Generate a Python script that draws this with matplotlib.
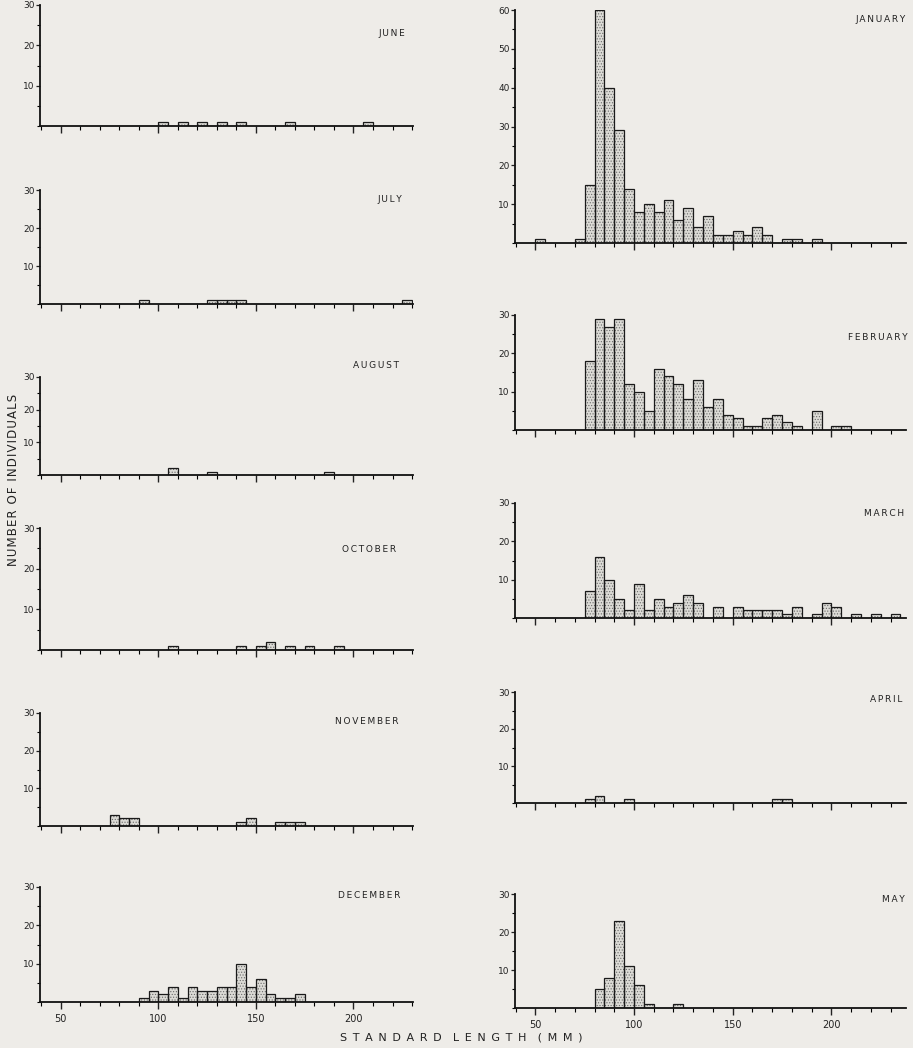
import matplotlib
matplotlib.use("Agg")
import matplotlib.pyplot as plt
from matplotlib.ticker import MultipleLocator

# bin start (mm, 5 mm bins) and number of individuals
jun_bins = [100, 110, 120, 130, 140, 165, 205]
jun_counts = [1, 1, 1, 1, 1, 1, 1]
jul_bins = [90, 125, 130, 135, 140, 225]
jul_counts = [1, 1, 1, 1, 1, 1]
aug_bins = [105, 125, 185]
aug_counts = [2, 1, 1]
oct_bins = [105, 140, 150, 155, 165, 175, 190]
oct_counts = [1, 1, 1, 2, 1, 1, 1]
nov_bins = [75, 80, 85, 140, 145, 160, 165, 170]
nov_counts = [3, 2, 2, 1, 2, 1, 1, 1]
dec_bins = [90, 95, 100, 105, 110, 115, 120, 125, 130, 135, 140, 145, 150, 155, 160, 165, 170]
dec_counts = [1, 3, 2, 4, 1, 4, 3, 3, 4, 4, 10, 4, 6, 2, 1, 1, 2]

jan_bins = [50, 70, 75, 80, 85, 90, 95, 100, 105, 110, 115, 120, 125, 130, 135,
            140, 145, 150, 155, 160, 165, 175, 180, 190]
jan_counts = [1, 1, 15, 60, 40, 29, 14, 8, 10, 8, 11, 6, 9, 4, 7,
              2, 2, 3, 2, 4, 2, 1, 1, 1]
feb_bins = [75, 80, 85, 90, 95, 100, 105, 110, 115, 120, 125, 130, 135, 140,
            145, 150, 155, 160, 165, 170, 175, 180, 190, 200, 205]
feb_counts = [18, 29, 27, 29, 12, 10, 5, 16, 14, 12, 8, 13, 6, 8,
              4, 3, 1, 1, 3, 4, 2, 1, 5, 1, 1]
mar_bins = [75, 80, 85, 90, 95, 100, 105, 110, 115, 120, 125, 130, 140, 150,
            155, 160, 165, 170, 175, 180, 190, 195, 200, 210, 220, 230]
mar_counts = [7, 16, 10, 5, 2, 9, 2, 5, 3, 4, 6, 4, 3, 3,
              2, 2, 2, 2, 1, 3, 1, 4, 3, 1, 1, 1]
apr_bins = [75, 80, 95, 170, 175]
apr_counts = [1, 2, 1, 1, 1]
may_bins = [80, 85, 90, 95, 100, 105, 120]
may_counts = [5, 8, 23, 11, 6, 1, 1]

W, H = 913, 1048
BG = "#eeece8"

plt.rcParams["hatch.linewidth"] = 0.5
fig = plt.figure(figsize=(W / 100, H / 100), dpi=100, facecolor=BG)


def spaced(s, sep="\u2009"):
    return sep.join(s)


def panel(x0, x1, top, bottom, bins, counts, name, tx, ty, xlim, ymax=30, labels=False):
    ax = fig.add_axes([x0 / W, 1 - bottom / H, (x1 - x0) / W, (bottom - top) / H])
    ax.set_facecolor("none")
    ax.bar(bins, counts, width=5, align="edge", color="#dcdbd6",
           edgecolor="#6a6a6a", hatch="......", linewidth=0)
    ax.bar(bins, counts, width=5, align="edge", fill=False,
           edgecolor="#1a1a1a", linewidth=0.9)
    ax.set_xlim(*xlim)
    ax.set_ylim(0, ymax)
    for s in ["top", "right"]:
        ax.spines[s].set_visible(False)
    for s in ["left", "bottom"]:
        ax.spines[s].set_linewidth(1.3)
        ax.spines[s].set_color("#111111")
    ax.xaxis.set_major_locator(MultipleLocator(50))
    ax.xaxis.set_minor_locator(MultipleLocator(10))
    ax.yaxis.set_major_locator(MultipleLocator(10))
    ax.yaxis.set_minor_locator(MultipleLocator(5))
    ax.tick_params(axis="x", which="major", direction="out", length=5, width=1, labelsize=7,
                   labelbottom=labels, colors="#222222")
    ax.tick_params(axis="x", which="minor", direction="out", length=3, width=0.8)
    ax.tick_params(axis="y", which="major", direction="out", length=3, width=0.9, labelsize=6.5,
                   pad=1, colors="#222222")
    ax.tick_params(axis="y", which="minor", direction="out", length=2.5, width=0.8)
    ax.set_yticks([t for t in range(10, ymax + 1, 10)])
    fig.text(tx / W, 1 - ty / H, spaced(name), ha="right", va="center",
             fontsize=6.5, color="#222222")
    return ax


LX = (40, 413)
RX = (515, 906)
LLIM = (39.3, 230.5)
RLIM = (39.7, 237.8)

panel(*LX, 5, 126, jun_bins, jun_counts, "JUNE", 405, 33, LLIM)
panel(*LX, 190, 304, jul_bins, jul_counts, "JULY", 402, 199, LLIM)
panel(*LX, 377, 475, aug_bins, aug_counts, "AUGUST", 399, 366, LLIM)
panel(*LX, 528, 650, oct_bins, oct_counts, "OCTOBER", 396, 549, LLIM)
panel(*LX, 713, 826, nov_bins, nov_counts, "NOVEMBER", 398, 722, LLIM)
panel(*LX, 887, 1002, dec_bins, dec_counts, "DECEMBER", 400, 896, LLIM, labels=True)

panel(*RX, 10, 243, jan_bins, jan_counts, "JANUARY", 906, 20, RLIM, ymax=60)
panel(*RX, 315, 430, feb_bins, feb_counts, "FEBRUARY", 908, 338, RLIM)
panel(*RX, 503, 618, mar_bins, mar_counts, "MARCH", 904, 514, RLIM)
panel(*RX, 692, 803, apr_bins, apr_counts, "APRIL", 902, 700, RLIM)
panel(*RX, 894, 1008, may_bins, may_counts, "MAY", 905, 899, RLIM, labels=True)

ylab = "\u2002".join(spaced(w, "\u200a") for w in ["NUMBER", "OF", "INDIVIDUALS"])
fig.text(14 / W, 1 - 480 / H, ylab, rotation=90, ha="center", va="center",
         fontsize=8.5, color="#222222")
xlab = "\u2002\u2002".join(spaced(w, "\u2002") for w in ["STANDARD", "LENGTH", "(MM)"])
fig.text(461 / W, 1 - 1037 / H, xlab, ha="center", va="center", fontsize=8, color="#222222")

fig.savefig("out.png", dpi=100, facecolor=BG)
